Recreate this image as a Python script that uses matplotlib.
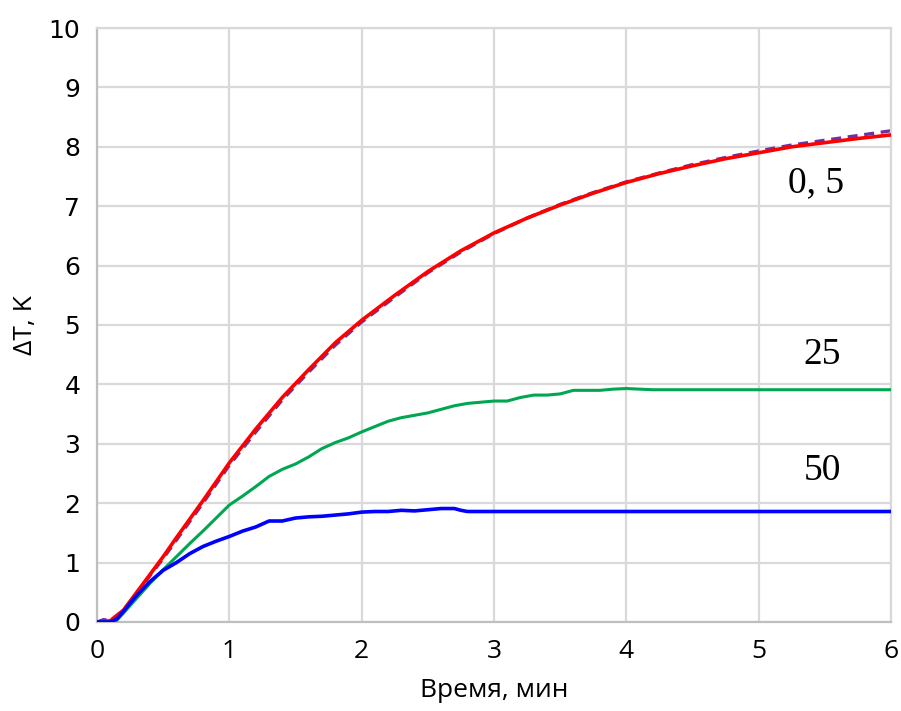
import numpy as np
import matplotlib
matplotlib.use("Agg")
import matplotlib.pyplot as plt

# время, мин и dT, K для каждой кривой
t_0 = [0, 0.1, 0.2, 0.3, 0.4, 0.5, 0.6, 0.7, 0.8, 0.9, 1.0, 1.2, 1.4, 1.6, 1.8, 2.0,
       2.25, 2.5, 2.75, 3.0, 3.25, 3.5, 3.75, 4.0, 4.25, 4.5, 4.75, 5.0, 5.25, 5.5, 5.75, 6.0]
dT_0 = [0, 0.02, 0.2, 0.5, 0.8, 1.1, 1.42, 1.73, 2.04, 2.36, 2.68, 3.25, 3.78, 4.25, 4.7, 5.08,
        5.5, 5.9, 6.25, 6.55, 6.8, 7.02, 7.22, 7.4, 7.55, 7.68, 7.8, 7.9, 8.0, 8.07, 8.14, 8.2]

t_5 = [0, 0.05, 0.1, 0.2, 0.3, 0.4, 0.5, 0.6, 0.7, 0.8, 0.9, 1.0, 1.2, 1.4, 1.6, 1.8, 2.0,
       2.25, 2.5, 2.75, 3.0, 3.25, 3.5, 3.75, 4.0, 4.25, 4.5, 4.75, 5.0, 5.25, 5.5, 5.75, 6.0]
dT_5 = [0, 0.04, 0.02, 0.2, 0.48, 0.78, 1.07, 1.38, 1.69, 2.0, 2.32, 2.64, 3.2, 3.74, 4.21, 4.66, 5.05,
        5.47, 5.88, 6.23, 6.54, 6.8, 7.03, 7.23, 7.41, 7.56, 7.7, 7.82, 7.93, 8.03, 8.11, 8.19, 8.27]

t_25 = [0, 0.1, 0.15, 0.2, 0.3, 0.4, 0.5, 0.6, 0.7, 0.8, 0.9, 1.0, 1.1, 1.2, 1.3, 1.4, 1.5,
        1.6, 1.7, 1.8, 1.9, 2.0, 2.1, 2.2, 2.3, 2.4, 2.5, 2.6, 2.7, 2.8, 2.9, 3.0, 3.1, 3.2,
        3.3, 3.4, 3.5, 3.6, 3.7, 3.8, 3.9, 4.0, 4.1, 4.2, 6.0]
dT_25 = [0, 0, 0.03, 0.15, 0.4, 0.65, 0.88, 1.1, 1.32, 1.53, 1.75, 1.97, 2.12, 2.28, 2.45, 2.57, 2.66,
         2.78, 2.92, 3.02, 3.1, 3.2, 3.29, 3.38, 3.44, 3.48, 3.52, 3.58, 3.64, 3.68, 3.7, 3.72, 3.72, 3.78,
         3.82, 3.82, 3.84, 3.9, 3.9, 3.9, 3.92, 3.93, 3.92, 3.91, 3.91]

t_50 = [0, 0.1, 0.15, 0.2, 0.3, 0.4, 0.5, 0.6, 0.7, 0.8, 0.9, 1.0, 1.1, 1.2, 1.3, 1.4, 1.5,
        1.6, 1.7, 1.8, 1.9, 2.0, 2.1, 2.2, 2.3, 2.4, 2.5, 2.6, 2.7, 2.75, 2.8, 6.0]
dT_50 = [0, 0, 0.05, 0.18, 0.45, 0.68, 0.87, 1.0, 1.15, 1.27, 1.36, 1.44, 1.53, 1.6, 1.7, 1.7, 1.75,
         1.77, 1.78, 1.8, 1.82, 1.85, 1.86, 1.86, 1.88, 1.87, 1.89, 1.91, 1.91, 1.88, 1.86, 1.86]

labels = ["0, 5", "25", "50"]
label_pos = [(5.43, 7.4), (5.48, 4.5), (5.48, 2.55)]

fig = plt.figure(figsize=(9.01, 7.11), dpi=100)
ax = fig.add_axes([0.1077, 0.1252, 0.8812, 0.8354])

ax.plot(t_0, dT_0, color="#ff0000", lw=2.6, zorder=3, solid_joinstyle="round")
ax.plot(t_5, dT_5, color="#7030a0", lw=2.4, ls=(0, (3, 2)), zorder=2)
ax.plot(t_25, dT_25, color="#00a650", lw=2.2, zorder=3, solid_joinstyle="round")
ax.plot(t_50, dT_50, color="#0000ff", lw=2.6, zorder=3, solid_joinstyle="round")

for txt, (x, y) in zip(labels, label_pos):
    ax.text(x, y, txt, fontsize=27, family="Liberation Serif", ha="center", va="center")

ax.set_xlim(0, 6)
ax.set_ylim(0, 10)
ax.set_xticks(range(0, 7))
ax.set_yticks(range(0, 11))
ax.grid(True, color="#d9d9d9", lw=1.6)
ax.set_axisbelow(True)
for s in ax.spines.values():
    s.set_color("#d9d9d9")
    s.set_linewidth(1.6)
ax.spines["left"].set_color("#bfbfbf")
ax.spines["bottom"].set_color("#bfbfbf")
ax.tick_params(axis="x", length=0, pad=12)
ax.tick_params(axis="y", length=0, pad=12)
for lab in ax.get_xticklabels():
    lab.set_family("Open Sans")
    lab.set_fontsize(19)
for lab in ax.get_yticklabels():
    lab.set_family("DejaVu Sans")
    lab.set_fontsize(18)

ax.set_xlabel("Время, мин", fontsize=19, family="Open Sans", labelpad=10)
ax.set_ylabel("ΔT, K", fontsize=19, family="Open Sans", labelpad=8)

fig.savefig("out.png", dpi=100)
